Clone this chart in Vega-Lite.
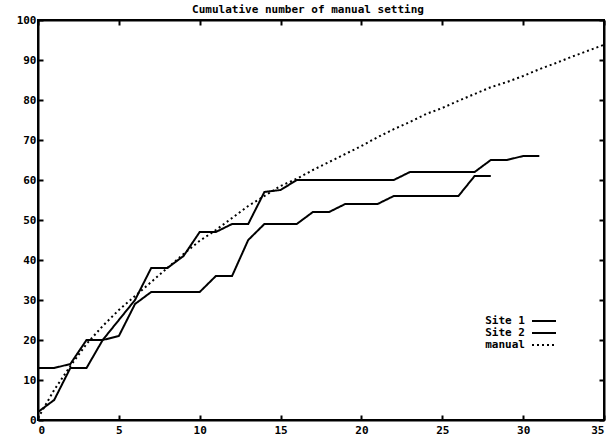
{
  "$schema": "https://vega.github.io/schema/vega-lite/v6.json",
  "width": 566,
  "height": 400,
  "autosize": {"type": "none"},
  "padding": {"left": 38, "top": 20, "right": 8, "bottom": 20},
  "background": "white",
  "config": {
    "view": {"stroke": "black", "strokeWidth": 2},
    "font": "DejaVu Sans Mono",
    "axis": {
      "grid": false,
      "domainColor": "black",
      "domainWidth": 2,
      "tickColor": "black",
      "tickWidth": 2,
      "tickSize": -5,
      "labelFont": "DejaVu Sans Mono",
      "labelFontWeight": "bold",
      "labelFontSize": 11,
      "labelColor": "black",
      "title": null
    }
  },
  "title": {
    "text": "Cumulative number of manual setting",
    "font": "DejaVu Sans Mono",
    "fontSize": 11,
    "fontWeight": "bold",
    "color": "black",
    "anchor": "middle",
    "dx": -13,
    "offset": -1
  },
  "data": {
    "values": [
      {"series": "Site 1", "x": 0, "y": 13},
      {"series": "Site 1", "x": 1, "y": 13},
      {"series": "Site 1", "x": 2, "y": 14},
      {"series": "Site 1", "x": 3, "y": 20},
      {"series": "Site 1", "x": 4, "y": 20},
      {"series": "Site 1", "x": 5, "y": 25},
      {"series": "Site 1", "x": 6, "y": 30},
      {"series": "Site 1", "x": 7, "y": 38},
      {"series": "Site 1", "x": 8, "y": 38},
      {"series": "Site 1", "x": 9, "y": 41},
      {"series": "Site 1", "x": 10, "y": 47},
      {"series": "Site 1", "x": 11, "y": 47},
      {"series": "Site 1", "x": 12, "y": 49},
      {"series": "Site 1", "x": 13, "y": 49},
      {"series": "Site 1", "x": 14, "y": 57},
      {"series": "Site 1", "x": 15, "y": 57.5},
      {"series": "Site 1", "x": 16, "y": 60},
      {"series": "Site 1", "x": 17, "y": 60},
      {"series": "Site 1", "x": 18, "y": 60},
      {"series": "Site 1", "x": 19, "y": 60},
      {"series": "Site 1", "x": 20, "y": 60},
      {"series": "Site 1", "x": 21, "y": 60},
      {"series": "Site 1", "x": 22, "y": 60},
      {"series": "Site 1", "x": 23, "y": 62},
      {"series": "Site 1", "x": 24, "y": 62},
      {"series": "Site 1", "x": 25, "y": 62},
      {"series": "Site 1", "x": 26, "y": 62},
      {"series": "Site 1", "x": 27, "y": 62},
      {"series": "Site 1", "x": 28, "y": 65},
      {"series": "Site 1", "x": 29, "y": 65},
      {"series": "Site 1", "x": 30, "y": 66},
      {"series": "Site 1", "x": 31, "y": 66},
      {"series": "Site 2", "x": 0, "y": 2},
      {"series": "Site 2", "x": 1, "y": 5},
      {"series": "Site 2", "x": 2, "y": 13},
      {"series": "Site 2", "x": 3, "y": 13},
      {"series": "Site 2", "x": 4, "y": 20},
      {"series": "Site 2", "x": 5, "y": 21},
      {"series": "Site 2", "x": 6, "y": 29},
      {"series": "Site 2", "x": 7, "y": 32},
      {"series": "Site 2", "x": 8, "y": 32},
      {"series": "Site 2", "x": 9, "y": 32},
      {"series": "Site 2", "x": 10, "y": 32},
      {"series": "Site 2", "x": 11, "y": 36},
      {"series": "Site 2", "x": 12, "y": 36},
      {"series": "Site 2", "x": 13, "y": 45},
      {"series": "Site 2", "x": 14, "y": 49},
      {"series": "Site 2", "x": 15, "y": 49},
      {"series": "Site 2", "x": 16, "y": 49},
      {"series": "Site 2", "x": 17, "y": 52},
      {"series": "Site 2", "x": 18, "y": 52},
      {"series": "Site 2", "x": 19, "y": 54},
      {"series": "Site 2", "x": 20, "y": 54},
      {"series": "Site 2", "x": 21, "y": 54},
      {"series": "Site 2", "x": 22, "y": 56},
      {"series": "Site 2", "x": 23, "y": 56},
      {"series": "Site 2", "x": 24, "y": 56},
      {"series": "Site 2", "x": 25, "y": 56},
      {"series": "Site 2", "x": 26, "y": 56},
      {"series": "Site 2", "x": 27, "y": 61},
      {"series": "Site 2", "x": 28, "y": 61},
      {"series": "manual", "x": 0, "y": 0.5},
      {"series": "manual", "x": 1, "y": 7.5},
      {"series": "manual", "x": 2, "y": 13.5},
      {"series": "manual", "x": 3, "y": 19},
      {"series": "manual", "x": 4, "y": 23.5},
      {"series": "manual", "x": 5, "y": 27.5},
      {"series": "manual", "x": 6, "y": 31},
      {"series": "manual", "x": 7, "y": 34.5},
      {"series": "manual", "x": 8, "y": 38},
      {"series": "manual", "x": 9, "y": 41.5},
      {"series": "manual", "x": 10, "y": 44.8},
      {"series": "manual", "x": 11, "y": 47.5},
      {"series": "manual", "x": 12, "y": 50.5},
      {"series": "manual", "x": 13, "y": 53.5},
      {"series": "manual", "x": 14, "y": 56},
      {"series": "manual", "x": 15, "y": 58.5},
      {"series": "manual", "x": 16, "y": 60.3},
      {"series": "manual", "x": 17, "y": 62.5},
      {"series": "manual", "x": 18, "y": 64.5},
      {"series": "manual", "x": 19, "y": 66.5},
      {"series": "manual", "x": 20, "y": 68.5},
      {"series": "manual", "x": 21, "y": 70.7},
      {"series": "manual", "x": 22, "y": 72.7},
      {"series": "manual", "x": 23, "y": 74.5},
      {"series": "manual", "x": 24, "y": 76.5},
      {"series": "manual", "x": 25, "y": 78},
      {"series": "manual", "x": 26, "y": 79.8},
      {"series": "manual", "x": 27, "y": 81.5},
      {"series": "manual", "x": 28, "y": 83.2},
      {"series": "manual", "x": 29, "y": 84.5},
      {"series": "manual", "x": 30, "y": 86},
      {"series": "manual", "x": 31, "y": 87.7},
      {"series": "manual", "x": 32, "y": 89.2},
      {"series": "manual", "x": 33, "y": 90.8},
      {"series": "manual", "x": 34, "y": 92.3},
      {"series": "manual", "x": 35, "y": 93.8}
    ]
  },
  "layer": [
    {
      "mark": {"type": "line", "strokeWidth": 2, "color": "black"},
      "encoding": {
        "x": {
          "field": "x", "type": "quantitative",
          "scale": {"domain": [0, 35], "nice": false},
          "axis": {"orient": "bottom", "values": [0, 5, 10, 15, 20, 25, 30, 35], "labelPadding": 9}
        },
        "y": {
          "field": "y", "type": "quantitative",
          "scale": {"domain": [0, 100], "nice": false},
          "axis": {"orient": "left", "values": [0, 10, 20, 30, 40, 50, 60, 70, 80, 90, 100], "labelPadding": 7}
        },
        "detail": {"field": "series"},
        "strokeDash": {
          "field": "series", "type": "nominal",
          "scale": {"domain": ["Site 1", "Site 2", "manual"], "range": [[1, 0], [1, 0], [2, 3]]},
          "legend": {
            "title": null,
            "orient": "none",
            "legendX": 499,
            "legendY": 294,
            "symbolType": "M-2,0H2",
            "symbolStrokeColor": "black",
            "symbolStrokeWidth": 2,
            "symbolSize": 144,
            "labelAlign": "right",
            "labelOffset": -26,
            "labelFont": "DejaVu Sans Mono",
            "labelFontWeight": "bold",
            "labelFontSize": 11,
            "labelColor": "black",
            "rowPadding": 0
          }
        }
      }
    },
    {
      "mark": {"type": "line", "opacity": 0},
      "encoding": {
        "x": {
          "field": "x", "type": "quantitative",
          "axis": {"orient": "top", "values": [0, 5, 10, 15, 20, 25, 30, 35], "labels": false}
        },
        "y": {
          "field": "y", "type": "quantitative",
          "axis": {"orient": "right", "values": [0, 10, 20, 30, 40, 50, 60, 70, 80, 90, 100], "labels": false}
        },
        "detail": {"field": "series"}
      }
    }
  ],
  "resolve": {"axis": {"x": "independent", "y": "independent"}}
}
